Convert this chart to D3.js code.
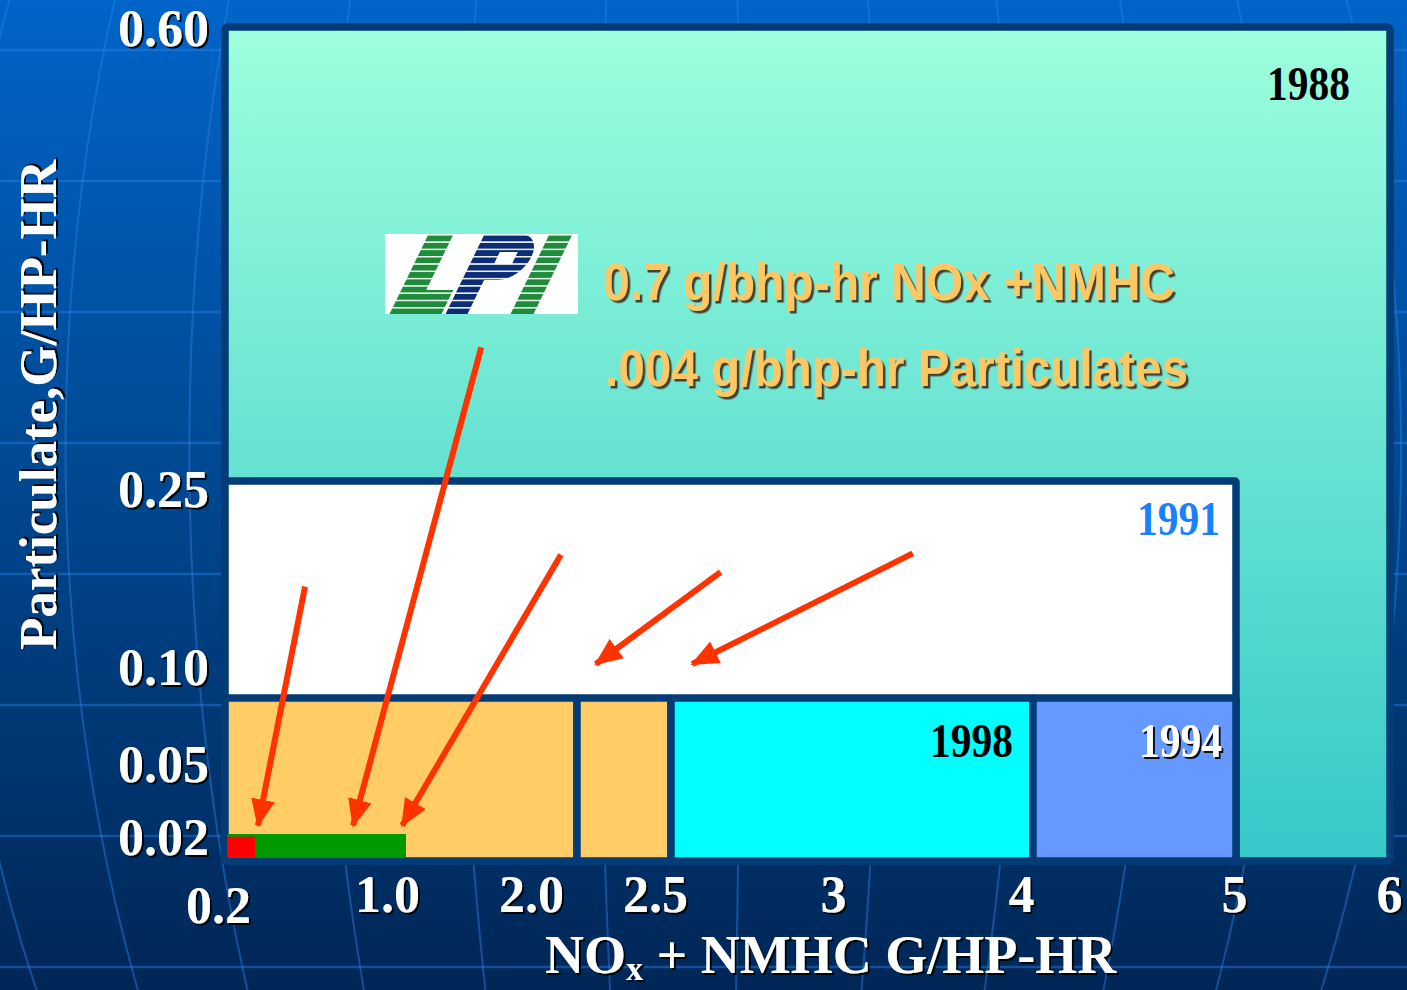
<!DOCTYPE html>
<html lang="en">
<head>
<meta charset="UTF-8">
<title>Heavy-duty engine emission standards</title>
<style>
  html, body { margin: 0; padding: 0; background: #002656; }
  svg { display: block; }
</style>
</head>
<body>
<div id="chart"></div>
<script src="https://cdn.jsdelivr.net/npm/d3@7"></script>
<script>
// axis ticks (g/hp-hr)
const xTicks = [0.2, 1.0, 2.0, 2.5, 3, 4, 5, 6];
const xTickLabels = ["0.2", "1.0", "2.0", "2.5", "3", "4", "5", "6"];
const yTicks = [0.60, 0.25, 0.10, 0.05, 0.02];
const yTickLabels = ["0.60", "0.25", "0.10", "0.05", "0.02"];

// standard boxes: NOx+NMHC range and particulate limit
const boxNames = ["1988", "1991", "2004a", "2004b", "1998", "1994"];
const boxNoxLow = [0, 0, 0, 2.0, 2.5, 4];
const boxNoxHigh = [6, 5, 2.0, 2.5, 4, 5];
const boxPm = [0.60, 0.25, 0.10, 0.10, 0.10, 0.10];
const boxLabels = ["1988", "1991", "", "", "1998", "1994"];

// small bars near the origin (LPI engine / 2010 level)
const barNames = ["LPI", "2010"];
const barNox = [1.0, 0.2];
const barPm = [0.02, 0.018];

// arrows in data units
const arrowFromNox = [0.465, 1.44, 1.906, 2.64, 3.35];
const arrowFromPm = [0.177, 0.353, 0.199, 0.187, 0.200];
const arrowToNox = [0.216, 0.72, 0.98, 2.10, 2.56];
const arrowToPm = [0.024, 0.024, 0.024, 0.1235, 0.1235];

const noteLines = ["0.7 g/bhp-hr NOx +NMHC", ".004 g/bhp-hr Particulates"];

// ---- layout ----
const W = 1407, H = 990;
const fills = {
    "1988": "url(#tealGrad)", "1991": "#ffffff", "2004a": "#ffcc66",
    "2004b": "#ffcc66", "1998": "#00ffff", "1994": "#6699ff"
};
const labelColor = { "1988": "#000", "1991": "#1a80ff", "1998": "#000", "1994": "#fff" };
const labelPad = { "1988": [40, 73], "1991": [16, 54], "1998": [20, 59], "1994": [14, 59] };
const barFill = { "LPI": "#009900", "2010": "#ff0000" };
const xNudge = { 0.2: -37, 1: -19, 2: -46, 2.5: -16, 3: -15, 4: -12, 5: -2, 6: -1 };
const yNudge = { 0.6: 2, 0.25: 9, 0.1: -30, 0.05: -5, 0.02: 4 };
const border = "#033c77";

const x = d3.scaleLinear()
    .domain([0, 0.2, 1, 2, 2.5, 3, 4, 5, 6])
    .range([225, 255, 406, 577, 671, 848, 1033, 1236, 1390]);
const y = d3.scaleLinear()
    .domain([0, 0.02, 0.05, 0.10, 0.25, 0.60])
    .range([861, 834, 770, 698, 481, 27]);

const svg = d3.select("#chart").append("svg")
    .attr("width", W).attr("height", H);

const defs = svg.append("defs");
const bg = defs.append("linearGradient").attr("id", "bgGrad")
    .attr("x1", 0).attr("y1", 0).attr("x2", 0).attr("y2", 1);
bg.append("stop").attr("offset", "0%").attr("stop-color", "#0064c8");
bg.append("stop").attr("offset", "50%").attr("stop-color", "#00478f");
bg.append("stop").attr("offset", "100%").attr("stop-color", "#002656");

const teal = defs.append("linearGradient").attr("id", "tealGrad")
    .attr("gradientUnits", "userSpaceOnUse")
    .attr("x1", 0).attr("y1", y(0.6)).attr("x2", 0).attr("y2", y(0));
teal.append("stop").attr("offset", "0%").attr("stop-color", "#9dffdd");
teal.append("stop").attr("offset", "100%").attr("stop-color", "#34c8c8");

const sh = defs.append("filter").attr("id", "shadow")
    .attr("x", "-10%").attr("y", "-20%").attr("width", "130%").attr("height", "150%");
sh.append("feDropShadow").attr("dx", 2).attr("dy", 2).attr("stdDeviation", 0.6)
    .attr("flood-color", "#000").attr("flood-opacity", 0.9);
const sh2 = defs.append("filter").attr("id", "shadowSoft")
    .attr("x", "-10%").attr("y", "-20%").attr("width", "130%").attr("height", "150%");
sh2.append("feDropShadow").attr("dx", 2.5).attr("dy", 2.5).attr("stdDeviation", 0.5)
    .attr("flood-color", "#3c3a2a").attr("flood-opacity", 0.95);

// striped fills for the logo letters
[["stripeG", "#1f8c3c"], ["stripeB", "#0c2c78"]].forEach(([id, c]) => {
    const p = defs.append("pattern").attr("id", id)
        .attr("patternUnits", "userSpaceOnUse").attr("width", 20).attr("height", 7.3);
    p.append("rect").attr("width", 20).attr("height", 7.3).attr("fill", "#e8f2ea");
    p.append("rect").attr("y", 1.6).attr("width", 20).attr("height", 5.7).attr("fill", c);
});
defs.append("clipPath").attr("id", "logoClip")
    .append("rect").attr("width", 193).attr("height", 80);

defs.append("marker").attr("id", "head")
    .attr("markerUnits", "userSpaceOnUse")
    .attr("viewBox", "0 0 28 24").attr("markerWidth", 28).attr("markerHeight", 24)
    .attr("refX", 26).attr("refY", 12).attr("orient", "auto")
    .append("path").attr("d", "M0,0 L28,12 L0,24 Z").attr("fill", "#ff3300");

// background with grid
svg.append("rect").attr("width", W).attr("height", H).attr("fill", "url(#bgGrad)");
const grid = svg.append("g").attr("fill", "none")
    .attr("stroke", "#2a80e6").attr("stroke-opacity", 0.45).attr("stroke-width", 2.5);
grid.selectAll("line").data(d3.range(50, H, 131)).join("line")
    .attr("x1", 0).attr("x2", W).attr("y1", d => d).attr("y2", d => d);
const globe = d3.geoOrthographic().scale(1165).translate([700, 450]).clipAngle(90);
const geoPath = d3.geoPath(globe);
grid.selectAll("path").data(d3.range(-61, 62, 7)).join("path")
    .attr("stroke-width", 2)
    .attr("d", lon => geoPath({ type: "LineString", coordinates: d3.range(-89, 90, 2).map(lat => [lon, lat]) }));

// standard boxes
svg.append("g").selectAll("rect").data(boxNames).join("rect")
    .attr("x", (d, i) => x(boxNoxLow[i]))
    .attr("y", (d, i) => y(boxPm[i]))
    .attr("width", (d, i) => x(boxNoxHigh[i]) - x(boxNoxLow[i]))
    .attr("height", (d, i) => y(0) - y(boxPm[i]))
    .attr("rx", (d, i) => i === 0 ? 3 : 1)
    .attr("fill", d => fills[d])
    .attr("stroke", border)
    .attr("stroke-width", 7.5)
    .attr("stroke-linejoin", "round");

// LPI / 2010 bars
svg.append("g").selectAll("rect").data(barNames).join("rect")
    .attr("x", x(0) + 2.5)
    .attr("y", (d, i) => y(barPm[i]))
    .attr("width", (d, i) => x(barNox[i]) - x(0) - 2.5)
    .attr("height", (d, i) => y(0) - 3.5 - y(barPm[i]))
    .attr("fill", d => barFill[d]);

// year labels
svg.append("g").selectAll("text").data(boxNames.filter((d, i) => boxLabels[i]))
    .join("text")
    .attr("x", d => x(boxNoxHigh[boxNames.indexOf(d)]) - labelPad[d][0])
    .attr("y", d => y(boxPm[boxNames.indexOf(d)]) + labelPad[d][1])
    .attr("text-anchor", "end")
    .attr("font-family", "Liberation Serif, Times New Roman, serif")
    .attr("font-weight", "bold").attr("font-size", 48)
    .attr("textLength", 83).attr("lengthAdjust", "spacingAndGlyphs")
    .attr("fill", d => labelColor[d])
    .attr("filter", d => d === "1994" ? "url(#shadow)" : null)
    .text(d => boxLabels[boxNames.indexOf(d)]);

// axes
const xAxis = svg.append("g").attr("transform", `translate(0,${y(0)})`)
    .call(d3.axisBottom(x).tickValues(xTicks)
        .tickFormat((d, i) => xTickLabels[i]).tickSize(0).tickPadding(14));
const yAxis = svg.append("g").attr("transform", `translate(${x(0)},0)`)
    .call(d3.axisLeft(y).tickValues(yTicks)
        .tickFormat((d, i) => yTickLabels[i]).tickSize(0).tickPadding(16));
[xAxis, yAxis].forEach(a => {
    a.select(".domain").remove();
    a.selectAll("text")
        .attr("font-family", "Liberation Serif, Times New Roman, serif")
        .attr("font-weight", "bold").attr("font-size", 52)
        .attr("fill", "#fff").attr("filter", "url(#shadow)");
});
xAxis.selectAll("text")
    .attr("dx", d => xNudge[d])
    .attr("transform", d => d === 0.2 ? "translate(0,11)" : null);
yAxis.selectAll("text").attr("transform", d => `translate(0,${yNudge[d]})`);

// axis titles
svg.append("text")
    .attr("transform", "translate(56,405) rotate(-90)")
    .attr("text-anchor", "middle")
    .attr("font-family", "Liberation Serif, Times New Roman, serif")
    .attr("font-weight", "bold").attr("font-size", 53)
    .attr("textLength", 490).attr("lengthAdjust", "spacingAndGlyphs")
    .attr("fill", "#fff").attr("filter", "url(#shadow)")
    .text("Particulate,G/HP-HR");

const xt = svg.append("text")
    .attr("x", 545).attr("y", 973)
    .attr("font-family", "Liberation Serif, Times New Roman, serif")
    .attr("font-weight", "bold").attr("font-size", 54)
    .attr("fill", "#fff").attr("filter", "url(#shadow)");
xt.append("tspan").text("NO");
xt.append("tspan").attr("font-size", 34).attr("dy", 7).text("x");
xt.append("tspan").attr("dy", -7).text(" + NMHC G/HP-HR");

// LPI logo (slanted, streaked letters) and note
const logo = svg.append("g").attr("transform", "translate(385,234)");
logo.append("rect").attr("width", 193).attr("height", 80).attr("fill", "#fff");
const letters = logo.append("g").attr("clip-path", "url(#logoClip)")
    .append("g").attr("transform", "translate(0,77) skewX(-26) translate(0,-77)");
letters.append("path").attr("fill", "url(#stripeG)")
    .attr("d", "M6,0 H31 V56 H58 V80 H6 Z");
letters.append("path").attr("fill", "url(#stripeB)").attr("fill-rule", "evenodd")
    .attr("d", "M62,0 H98 A22,23 0 0 1 120,23 A22,23 0 0 1 98,46 H84 V80 H62 Z M86,18 H104 V30 H86 Z");
letters.append("path").attr("fill", "url(#stripeG)")
    .attr("d", "M127,0 H150 V80 H127 Z");

svg.append("g").selectAll("text").data(noteLines).join("text")
    .attr("x", (d, i) => [603, 605][i])
    .attr("y", (d, i) => [300, 386][i])
    .attr("font-family", "Liberation Sans, Arial, sans-serif")
    .attr("font-weight", "bold").attr("font-size", 51)
    .attr("textLength", (d, i) => [572, 583][i]).attr("lengthAdjust", "spacingAndGlyphs")
    .attr("fill", "#fcc865").attr("filter", "url(#shadowSoft)")
    .text(d => d);

// arrows
svg.append("g").selectAll("line").data(arrowFromNox).join("line")
    .attr("x1", (d, i) => x(arrowFromNox[i]))
    .attr("y1", (d, i) => y(arrowFromPm[i]))
    .attr("x2", (d, i) => x(arrowToNox[i]))
    .attr("y2", (d, i) => y(arrowToPm[i]))
    .attr("stroke", "#ff3300").attr("stroke-width", 6)
    .attr("marker-end", "url(#head)");
</script>
</body>
</html>
